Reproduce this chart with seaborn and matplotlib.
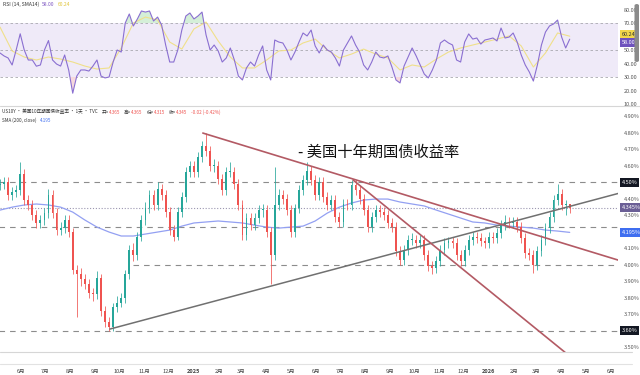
import numpy as np
import pandas as pd
import matplotlib
matplotlib.use("Agg")
import matplotlib.pyplot as plt
import matplotlib.transforms as mtransforms
from matplotlib.patches import FancyBboxPatch
from matplotlib.lines import Line2D
import seaborn as sns

sns.set_theme(style="white")
plt.rcParams['font.family'] = ['Noto Sans CJK SC', 'DejaVu Sans']

# ---------------- data ----------------
candle_start = "2024-05-06"       # 5-day candles
first_open = 4.48
close = [4.49, 4.50, 4.42, 4.44, 4.45, 4.55, 4.39, 4.36, 4.30, 4.25,
         4.27, 4.31, 4.42, 4.31, 4.21, 4.22, 4.27, 4.20, 3.97, 3.94,
         3.91, 3.88, 3.83, 3.82, 3.92, 3.72, 3.65, 3.62, 3.74, 3.77,
         3.80, 3.94, 4.09, 4.06, 4.17, 4.27, 4.34, 4.42, 4.36, 4.46,
         4.42, 4.32, 4.21, 4.17, 4.32, 4.41, 4.56, 4.60, 4.56, 4.65,
         4.72, 4.69, 4.60, 4.60, 4.52, 4.45, 4.56, 4.56, 4.49, 4.36,
         4.18, 4.28, 4.24, 4.28, 4.33, 4.33, 4.20, 4.06, 4.36, 4.42,
         4.40, 4.33, 4.20, 4.34, 4.45, 4.51, 4.57, 4.51, 4.42, 4.50,
         4.41, 4.36, 4.39, 4.29, 4.26, 4.37, 4.36, 4.48, 4.45, 4.40,
         4.33, 4.23, 4.29, 4.33, 4.32, 4.30, 4.25, 4.23, 4.08, 4.03,
         4.09, 4.15, 4.15, 4.13, 4.15, 4.06, 3.99, 3.98, 4.02, 4.09,
         4.13, 4.14, 4.13, 4.06, 4.02, 4.09, 4.15, 4.17, 4.16, 4.14,
         4.13, 4.17, 4.16, 4.19, 4.24, 4.26, 4.25, 4.26, 4.23, 4.16,
         4.07, 4.06, 4.00, 4.08, 4.15, 4.22, 4.29, 4.39, 4.43, 4.36,
         4.365, 4.345]
high = [4.52, 4.53, 4.53, 4.47, 4.48, 4.62, 4.58, 4.42, 4.39, 4.33,
        4.30, 4.34, 4.46, 4.45, 4.34, 4.26, 4.30, 4.30, 4.22, 4.00,
        3.98, 3.94, 3.91, 3.86, 3.96, 3.94, 3.75, 3.68, 3.77, 3.81,
        3.83, 3.97, 4.12, 4.13, 4.20, 4.30, 4.38, 4.45, 4.45, 4.50,
        4.49, 4.45, 4.35, 4.24, 4.35, 4.44, 4.59, 4.63, 4.63, 4.68,
        4.75, 4.80, 4.72, 4.64, 4.63, 4.55, 4.59, 4.62, 4.59, 4.52,
        4.39, 4.31, 4.31, 4.31, 4.36, 4.37, 4.36, 4.23, 4.59, 4.46,
        4.45, 4.43, 4.36, 4.37, 4.48, 4.54, 4.62, 4.60, 4.54, 4.53,
        4.53, 4.44, 4.42, 4.42, 4.32, 4.40, 4.40, 4.51, 4.51, 4.48,
        4.43, 4.36, 4.32, 4.36, 4.36, 4.35, 4.33, 4.28, 4.26, 4.11,
        4.12, 4.18, 4.19, 4.18, 4.18, 4.18, 4.09, 4.02, 4.05, 4.12,
        4.16, 4.17, 4.17, 4.16, 4.09, 4.12, 4.18, 4.20, 4.20, 4.19,
        4.17, 4.20, 4.20, 4.22, 4.27, 4.30, 4.29, 4.29, 4.29, 4.26,
        4.19, 4.10, 4.09, 4.11, 4.18, 4.25, 4.32, 4.42, 4.49, 4.46,
        4.39, 4.365]
low = [4.45, 4.46, 4.39, 4.39, 4.41, 4.42, 4.36, 4.33, 4.27, 4.22,
       4.22, 4.24, 4.28, 4.28, 4.18, 4.18, 4.19, 4.17, 3.94, 3.68,
       3.87, 3.85, 3.80, 3.78, 3.79, 3.69, 3.62, 3.60, 3.60, 3.71,
       3.74, 3.77, 3.91, 4.02, 4.03, 4.14, 4.24, 4.31, 4.33, 4.33,
       4.39, 4.29, 4.18, 4.14, 4.15, 4.29, 4.38, 4.53, 4.53, 4.53,
       4.62, 4.66, 4.57, 4.56, 4.49, 4.42, 4.42, 4.53, 4.46, 4.33,
       4.15, 4.15, 4.21, 4.21, 4.25, 4.29, 4.17, 3.88, 4.03, 4.33,
       4.37, 4.30, 4.17, 4.17, 4.31, 4.42, 4.48, 4.48, 4.39, 4.39,
       4.38, 4.33, 4.33, 4.26, 4.23, 4.23, 4.33, 4.33, 4.42, 4.37,
       4.30, 4.20, 4.20, 4.26, 4.29, 4.27, 4.22, 4.20, 4.05, 4.00,
       4.00, 4.06, 4.12, 4.10, 4.10, 4.03, 3.96, 3.94, 3.95, 3.99,
       4.06, 4.10, 4.10, 4.03, 3.99, 3.99, 4.06, 4.12, 4.13, 4.11,
       4.10, 4.10, 4.13, 4.13, 4.16, 4.21, 4.22, 4.22, 4.20, 4.13,
       4.04, 4.03, 3.95, 3.97, 4.05, 4.12, 4.19, 4.26, 4.36, 4.33,
       4.30, 4.315]
rsi = [47.8, 45.6, 44.1, 38.9, 50.0, 62.0, 50.0, 42.6, 42.6, 38.0,
       38.9, 50.0, 57.0, 42.6, 39.6, 38.1, 46.3, 35.2, 18.0, 30.7,
       35.2, 35.2, 34.4, 38.1, 42.6, 30.7, 29.3, 30.0, 41.1, 50.0,
       48.5, 70.0, 76.7, 67.8, 73.0, 78.9, 78.1, 78.9, 71.5, 74.4,
       68.5, 53.7, 41.1, 41.1, 50.0, 64.8, 75.2, 77.4, 73.0, 75.2,
       78.1, 61.1, 50.0, 53.7, 49.3, 41.1, 44.1, 51.5, 42.6, 30.7,
       27.8, 36.7, 41.1, 38.1, 46.3, 53.0, 35.2, 27.8, 57.4, 55.9,
       55.2, 50.0, 42.6, 48.5, 55.9, 62.6, 60.4, 64.8, 53.0, 47.8,
       53.7, 50.0, 48.5, 44.1, 38.1, 50.0, 55.2, 60.4, 53.7, 48.5,
       38.9, 35.2, 41.1, 48.5, 44.8, 44.1, 45.6, 37.4, 27.8, 25.6,
       38.1, 44.8, 51.5, 45.6, 38.9, 32.2, 29.3, 35.2, 42.6, 55.2,
       57.4, 55.2, 53.7, 42.6, 41.1, 55.9, 61.9, 58.1, 58.9, 54.4,
       57.4, 58.1, 58.9, 56.7, 66.3, 58.9, 59.6, 62.6, 55.9, 46.3,
       38.9, 33.7, 27.0, 38.9, 53.7, 63.3, 67.8, 69.3, 72.2, 59.6,
       51.5, 58.0]
slow_start = "2024-05-06"          # 15-day sampling
rsi_ma = [67.0, 49.3, 44.8, 42.6, 44.8, 43.3, 41.1, 38.1, 35.9, 36.7,
          51.5, 70.0, 74.4, 72.2, 55.9, 50.7, 65.6, 70.7, 56.7, 44.8,
          36.7, 36.7, 42.6, 49.3, 50.0, 55.2, 58.1, 50.0, 44.1, 47.0,
          50.7, 47.0, 44.1, 35.2, 38.9, 37.4, 43.3, 48.5, 51.5, 53.7,
          55.9, 58.1, 60.4, 53.0, 37.4, 47.8, 62.6, 60.24]
sma200 = [4.330, 4.348, 4.361, 4.367, 4.361, 4.348, 4.318, 4.270, 4.227, 4.197,
          4.173, 4.173, 4.185, 4.197, 4.209, 4.233, 4.252, 4.258, 4.264, 4.258,
          4.252, 4.239, 4.227, 4.221, 4.227, 4.233, 4.264, 4.312, 4.348, 4.373,
          4.391, 4.397, 4.397, 4.379, 4.367, 4.355, 4.330, 4.306, 4.282, 4.258,
          4.252, 4.239, 4.233, 4.227, 4.221, 4.209, 4.203, 4.195]

# trend lines (date, value) pairs
trend_up_dates = ["2024-09-19", "2026-06-10"]
trend_up_vals = [3.609, 4.431]
trend_down1_dates = ["2025-01-12", "2026-06-10"]
trend_down1_vals = [4.797, 4.027]
trend_down2_dates = ["2025-07-17", "2026-04-17"]
trend_down2_vals = [4.512, 3.421]
# horizontal levels
level_vals = [4.50, 4.225, 4.00, 3.60]
level_starts = ["2024-05-01", "2024-05-01", "2024-10-18", "2024-05-01"]
last_price = 4.345
sma_last = 4.195
rsi_last = 58.00
rsi_ma_last = 60.24
main_ticks = [3.5, 3.7, 3.8, 3.9, 4.0, 4.1, 4.3, 4.4, 4.6, 4.7, 4.8, 4.9]
rsi_ticks = [10, 20, 30, 40, 50, 70, 80]
title_text = "- 美国十年期国债收益率"
header_main = "US10Y · 美国10年期国债收益率 · 1天 · TVC"
ohlc_labels = ["开=", "高=", "低=", "收="]
ohlc_values = ["4.365", "4.365", "4.315", "4.345"]
change_text = "-0.02 (-0.42%)"

# ---------------- frames ----------------
n = len(close)
dates = pd.date_range(candle_start, periods=n, freq="5D")
opens = [first_open] + close[:-1]
df = pd.DataFrame({"date": dates, "open": opens, "close": close,
                   "high": high, "low": low, "rsi": rsi})
df["high"] = df[["high", "open", "close"]].max(axis=1)
df["low"] = df[["low", "open", "close"]].min(axis=1)
slow = pd.DataFrame({"date": pd.date_range(slow_start, periods=len(sma200), freq="15D"),
                     "sma": sma200, "rsi_ma": rsi_ma})

W, H = 640, 375
def fx(px): return px / W
def fy(py): return 1 - py / H

fig = plt.figure(figsize=(6.4, 3.75), dpi=100)
fig.patch.set_facecolor("white")
renderer = fig.canvas.get_renderer()
ax_r = fig.add_axes([0, fy(105), fx(618), 105 / H])
ax = fig.add_axes([0, fy(352), fx(618), (352 - 106) / H])

xmin = pd.Timestamp("2024-05-06")
xmax = pd.Timestamp("2026-06-09 18:00")

# ---------------- RSI pane ----------------
ax_r.axhspan(30, 70, color="#efeaf8", zorder=0, lw=0)
for lv in (70, 50, 30):
    ax_r.axhline(lv, color="#a9a9b0", lw=0.6, ls=(0, (3, 3)), zorder=1)
ax_r.fill_between(df["date"], 70, df["rsi"], where=df["rsi"] > 70,
                  interpolate=True, color="#d4efd8", lw=0, zorder=1)
ax_r.fill_between(df["date"], 30, df["rsi"], where=df["rsi"] < 30,
                  interpolate=True, color="#f7d9dc", lw=0, zorder=1)
sns.lineplot(data=slow, x="date", y="rsi_ma", ax=ax_r, color="#f0e08a", lw=0.8, zorder=2)
sns.lineplot(data=df, x="date", y="rsi", ax=ax_r, color="#8a6fd1", lw=0.8, zorder=3)
ax_r.set_xlim(xmin, xmax)
ax_r.set_ylim(9.26, 87.04)
ax_r.set_xlabel(""); ax_r.set_ylabel("")
ax_r.set_xticks([])
ax_r.yaxis.tick_right()
ax_r.set_yticks(rsi_ticks)
ax_r.set_yticklabels([f"{t:.2f}" for t in rsi_ticks])
ax_r.tick_params(axis="y", length=0, pad=4, labelsize=4, labelcolor="#555555")
for s in ax_r.spines.values():
    s.set_visible(False)

def badge(a, y, text, fc, tc):
    tr = mtransforms.blended_transform_factory(a.transAxes, a.transData)
    a.text(1.006, y, text, transform=tr, fontsize=4, color=tc, va="center", ha="left",
           clip_on=False, zorder=10,
           bbox=dict(boxstyle="square,pad=0.35", fc=fc, ec="none"))

badge(ax_r, rsi_ma_last + 1.5, f"{rsi_ma_last:.2f}", "#f1d64a", "#333333")
badge(ax_r, rsi_last - 2.5, f"{rsi_last:.2f}", "#6e52bd", "white")

# ---------------- price pane ----------------
up = df["close"] >= df["open"]
col = np.where(up, "#26a69a", "#ef5350")
ax.vlines(df["date"], df["low"], df["high"], colors=col, lw=0.55, zorder=3)
body = (df["close"] - df["open"]).abs().clip(lower=0.006)
bottom = df[["open", "close"]].min(axis=1)
ax.bar(df["date"], body, bottom=bottom, width=2.3, color=col, lw=0, zorder=4)

sns.lineplot(data=slow, x="date", y="sma", ax=ax, color="#93a0f2", lw=0.9, zorder=2)

for v, st in zip(level_vals, level_starts):
    ax.hlines(v, pd.Timestamp(st), xmax, colors="#8c8c8c", lw=0.8,
              linestyles=(0, (5, 4.5)), zorder=1)
ax.axhline(last_price, color="#9b96b0", lw=0.8, ls=(0, (1, 1.6)), zorder=1)

ax.plot(pd.to_datetime(trend_up_dates), trend_up_vals, color="#707070", lw=1.1, zorder=5)
ax.plot(pd.to_datetime(trend_down1_dates), trend_down1_vals, color="#b35a64", lw=1.2, zorder=5)
ax.plot(pd.to_datetime(trend_down2_dates), trend_down2_vals, color="#b35a64", lw=1.2, zorder=5)

ax.set_xlim(xmin, xmax)
ax.set_ylim(3.470, 4.961)
ax.set_xlabel(""); ax.set_ylabel("")
ax.yaxis.tick_right()
ax.set_yticks(main_ticks)
ax.set_yticklabels([f"{t:.2f}%" for t in main_ticks])
ax.tick_params(axis="y", length=0, pad=4, labelsize=4, labelcolor="#555555")

months = pd.date_range("2024-06-01", "2026-06-01", freq="MS")
ax.set_xticks(months)
labels = [str(m.year) if m.month == 1 else f"{m.month}月" for m in months]
ax.set_xticklabels(labels)
ax.tick_params(axis="x", length=0, pad=12.5, labelsize=4, labelcolor="#444444")
for lab, m in zip(ax.get_xticklabels(), months):
    if m.month == 1:
        lab.set_fontweight("bold")
for s in ax.spines.values():
    s.set_visible(False)

badge(ax, 4.50, "4.50%", "#131722", "white")
badge(ax, last_price, f"{last_price:.3f}%", "#6b5f96", "white")
badge(ax, sma_last, f"{sma_last:.3f}%", "#3f6ef0", "white")
badge(ax, 3.60, "3.60%", "#131722", "white")

# ---------------- texts (laid out left to right) ----------------
def text_row(x_px, y_px, parts, size):
    x = x_px
    for s, color, gap in parts:
        t = fig.text(fx(x), fy(y_px), s, fontsize=size, color=color, va="center", ha="left")
        bb = t.get_window_extent(renderer)
        x = bb.x1 + gap

text_row(3, 4.5, [("RSI (14, SMA14)", "#333333", 3),
                  (f"{rsi_last:.2f}", "#7e57c2", 3),
                  (f"{rsi_ma_last:.2f}", "#e0c53a", 0)], 3.6)

row = [(header_main, "#333333", 4)]
for lab, val in zip(ohlc_labels, ohlc_values):
    row.append((lab, "#333333", 0))
    row.append((val, "#ef5350", 4))
row.append((change_text, "#ef5350", 0))
text_row(2, 112, row, 3.3)
text_row(2, 120, [("SMA (200, close)", "#333333", 3),
                  (f"{sma_last:.3f}", "#3f6ef0", 0)], 3.3)

fig.text(fx(298), fy(152), title_text, fontsize=11, color="#111111", va="center")

# separators
fig.add_artist(Line2D([0, 1], [fy(105.5), fy(105.5)], color="#d6d6d6", lw=0.8))
fig.add_artist(Line2D([0, fx(632)], [fy(352), fy(352)], color="#d6d6d6", lw=0.8))
fig.add_artist(Line2D([0, fx(632)], [fy(364), fy(364)], color="#e2e2e2", lw=0.8))
fig.add_artist(FancyBboxPatch((fx(634.5), fy(62)), fx(4.5), 58 / H,
                              boxstyle="round,pad=0,rounding_size=0.004",
                              fc="#8a8a8a", ec="none"))

fig.savefig("out.png", dpi=100, facecolor="white")
